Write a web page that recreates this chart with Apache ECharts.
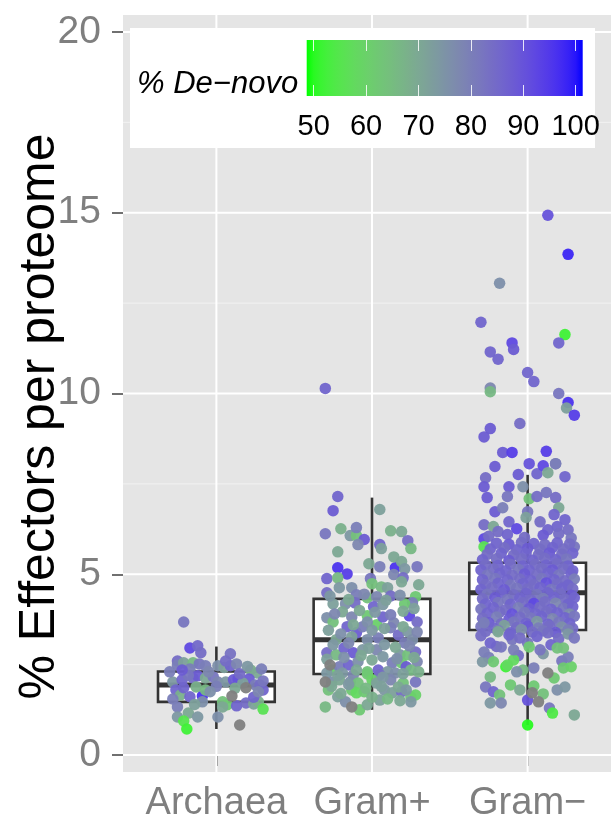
<!DOCTYPE html>
<html><head><meta charset="utf-8">
<script src="https://cdn.jsdelivr.net/npm/echarts@6/dist/echarts.min.js"></script>
<style>html,body{margin:0;padding:0;background:#fff}#c{width:611px;height:824px}</style>
</head><body><div id="c"></div><script>
// ---------------- data ----------------
const categories = ['Archaea', 'Gram+', 'Gram\u2212'];
const yTicks = [0, 5, 10, 15, 20];
const yMinorLines = [2.5, 7.5, 12.5, 17.5];
const legendTicks = [50, 60, 70, 80, 90, 100];
const colorLimits = [48.66, 101.34];
const naColor = '#7F7F7F';
// [lower whisker, Q1, median, Q3, upper whisker]
const boxStats = [
  [0.72, 1.47, 1.94, 2.31, 3.0],
  [1.25, 2.24, 3.19, 4.32, 7.12],
  [0.83, 3.46, 4.49, 5.32, 7.75]
];
// points: [jitter offset, % effectors, % de-novo (null = not available)]
const archaeaPts = [
[-0.21,3.68,82],[-0.17,2.96,92],[-0.12,3.02,85],[-0.10,2.83,84],[0.09,2.8,83],[-0.25,2.6,84],[-0.25,2.49,80],
[-0.21,2.55,72],[-0.15,2.55,66],[-0.11,2.52,82],[-0.07,2.47,80],[0.01,2.47,76],[0.05,2.42,72],[0.09,2.47,86],
[0.13,2.52,78],[0.22,2.35,68],[0.26,2.27,70],[0.29,2.38,80],[-0.17,2.38,80],[-0.28,2.02,74],[-0.22,2.08,86],
[-0.15,2.13,84],[-0.12,2.19,88],[-0.07,2.13,70],[-0.02,2.16,82],[0.01,2.02,78],[0.06,2.02,74],[0.11,2.08,88],
[0.14,2.1,90],[0.21,2.1,88],[0.17,1.99,72],[0.25,1.94,80],[0.19,1.86,null],[0.28,1.94,84],[0.3,1.8,86],
[-0.26,1.8,86],[-0.23,1.66,68],[-0.17,1.61,86],[-0.09,1.63,96],[-0.13,1.88,68],[-0.07,1.8,66],[-0.21,1.86,86],
[0.1,1.63,null],[-0.09,1.47,76],[0.04,1.47,64],[0.07,1.39,62],[0.13,1.36,86],[0.19,1.44,84],[0.24,1.41,72],
[0.27,1.47,68],[0.3,1.27,56],[-0.25,1.33,80],[-0.18,1.16,70],[-0.25,1.05,74],[-0.21,0.94,55],[-0.19,0.72,52],
[-0.12,1.05,74],[0.01,1.05,76],[0.15,0.83,null],[0.04,1.33,70],
[-0.3,2.3,80],[-0.05,2.3,78],[0.15,2.25,84],[0.2,2.45,74],[-0.18,2.2,82],[0.0,1.9,80],[-0.04,1.75,76],
[0.24,1.6,86],[0.3,2.05,82],[-0.28,1.55,80],[0.12,1.85,70],[-0.14,1.4,72],[0.06,2.6,84],[-0.22,2.35,88],[0.27,1.75,78]
];
const gramPosPts = [
[-0.3,10.14,86],[-0.22,7.15,86],[-0.25,6.76,88],[0.05,6.79,72],[-0.3,6.12,82],[-0.2,6.26,68],[-0.14,6.07,74],
[-0.1,6.07,64],[-0.1,6.29,80],[-0.05,5.96,88],[-0.09,5.82,78],[0.12,6.2,68],[0.19,6.18,70],[0.23,5.93,84],
[0.25,5.71,66],[0.05,5.82,86],[0.06,5.71,72],[-0.22,5.62,70],[-0.02,5.29,70],[-0.22,5.18,96],[-0.16,5.01,94],
[0.15,5.18,96],[0.05,5.21,80],[0.14,5.48,70],[0.19,5.35,70],[0.21,5.15,74],[0.29,5.21,82],[-0.29,4.88,86],
[-0.22,4.9,66],[-0.21,4.63,74],[-0.01,4.88,82],[0.0,4.74,64],[0.14,4.99,78],[0.2,4.9,84],[0.19,4.79,70],
[0.3,4.71,70],[0.06,4.65,66],[0.1,4.63,72],[-0.29,4.49,84],[-0.13,4.63,76],[-0.1,4.43,80],[-0.03,4.35,64],
[0.03,4.38,78],[0.12,4.4,84],[0.28,4.38,62],[0.26,4.21,80],[-0.25,4.18,72],[-0.17,4.18,76],[-0.11,4.21,84],
[0.01,4.1,86],[0.07,4.16,74],[0.21,4.18,62],[-0.29,3.8,76],[-0.25,3.68,64],[-0.19,3.96,70],[-0.13,3.82,78],
[-0.03,3.85,62],[0.03,3.6,60],[0.07,3.82,86],[0.14,3.66,78],[0.24,3.85,92],[0.29,3.68,84],[-0.16,3.55,86],
[-0.1,3.38,88],[-0.06,3.55,80],[-0.03,3.68,76],[0.12,3.52,80],[0.17,3.32,84],[0.23,3.41,74],[-0.23,3.19,70],
[-0.13,3.27,72],[-0.03,3.19,76],[0.04,3.24,80],[0.21,3.1,80],[0.26,3.19,76],[-0.29,2.83,84],[-0.23,2.77,66],
[-0.18,2.96,86],[-0.12,2.83,88],[-0.06,2.91,74],[0.0,2.63,70],[0.03,2.91,78],[0.13,2.55,80],[0.18,2.77,74],
[0.23,2.77,64],[0.28,2.85,84],[0.29,2.58,78],[-0.27,2.49,null],[-0.26,2.35,60],[-0.21,2.44,80],[-0.15,2.49,86],
[-0.09,2.58,76],[-0.03,2.3,64],[0.04,2.35,86],[0.1,2.3,74],[0.19,2.55,62],[0.22,2.44,88],[0.25,2.35,66],
[-0.29,2.27,74],[-0.19,2.27,74],[-0.12,2.22,78],[-0.03,2.24,62],[0.05,2.22,84],[0.15,2.27,76],[-0.3,2.02,null],
[-0.26,2.02,76],[-0.21,2.08,70],[-0.14,2.02,76],[-0.09,1.99,64],[0.0,2.08,60],[0.03,1.99,72],[0.12,2.08,78],
[0.2,1.99,64],[0.28,2.02,82],[-0.28,1.8,64],[-0.22,1.61,72],[-0.13,1.8,62],[-0.1,1.72,58],[-0.05,1.75,62],
[0.08,1.8,74],[0.13,1.72,72],[0.19,1.75,84],[0.25,1.61,64],[0.28,1.66,60],[-0.17,1.47,76],[-0.13,1.33,null],
[-0.08,1.25,62],[-0.03,1.39,70],[0.05,1.52,72],[-0.3,1.33,66],[0.25,1.47,74],
[-0.27,4.4,74],[-0.15,4.3,70],[-0.05,4.45,78],[0.09,4.28,72],[0.18,4.42,76],[0.27,4.05,72],
[-0.24,3.9,78],[-0.08,4.0,70],[0.02,3.95,74],[0.12,3.88,80],[0.2,3.98,70],
[-0.28,3.45,72],[-0.2,3.35,76],[-0.12,3.6,70],[0.0,3.45,74],[0.08,3.5,72],[0.2,3.55,70],[0.29,3.4,78],
[-0.25,3.05,74],[-0.15,3.1,78],[-0.02,2.95,72],[0.08,3.05,74],[0.15,2.98,70],[0.24,3.02,78],
[-0.29,2.65,72],[-0.18,2.7,76],[-0.07,2.75,70],[0.07,2.72,74],[0.16,2.66,76],[0.27,2.7,70],
[-0.22,2.2,72],[-0.1,2.35,70],[0.07,2.15,74],[0.2,2.25,72],[0.3,2.3,68],
[-0.26,1.9,70],[-0.15,1.95,74],[-0.04,1.85,66],[0.06,1.9,72],[0.17,1.88,70],[0.22,1.8,74],
[-0.2,1.7,70],[0.0,1.6,68],[0.1,1.55,66],[0.18,1.5,70]
];
const gramNegPts = [
[0.13,14.93,90],[0.26,13.85,98],[-0.18,13.05,76],[-0.3,11.97,86],[0.24,11.63,52],[-0.1,11.4,92],[-0.09,11.22,88],
[-0.24,11.15,86],[-0.19,10.95,86],[0.2,11.4,86],[0.0,10.58,86],[0.04,10.33,86],[-0.24,10.15,78],[-0.24,10.05,66],
[0.2,10.0,82],[0.26,9.75,96],[0.25,9.6,72],[0.3,9.4,94],[-0.24,9.03,88],[-0.28,8.8,88],[-0.05,9.17,84],
[-0.16,8.37,88],[-0.1,8.37,94],[0.12,8.4,94],[0.18,8.06,80],
[-0.21,7.98,88],[-0.06,7.76,88],[0.01,8.06,90],[0.06,7.78,86],[0.1,8.0,92],[0.13,7.81,70],[0.18,8.06,80],
[0.24,7.7,86],[-0.27,7.67,84],[-0.28,7.42,88],[-0.12,7.42,88],[-0.03,7.42,76],[-0.26,7.12,88],[-0.13,7.15,82],
[0.01,7.09,64],[0.06,7.15,84],[0.12,7.26,82],[0.18,7.12,84],[0.2,6.84,70],[-0.21,6.73,88],[-0.16,6.84,80],
[0.0,6.73,82],[0.17,6.65,86],[0.24,6.51,86],[0.26,6.23,84],[-0.28,6.37,84],[-0.22,6.32,70],[-0.19,6.18,84],
[-0.12,6.45,86],[-0.07,6.26,92],[-0.01,6.57,72],[0.08,6.45,84],[0.13,6.23,86],[0.19,6.32,86],[-0.28,5.98,92],
[-0.28,5.76,56],[0.3,5.76,82],
[-0.25,6.05,84],[-0.13,6.1,86],[-0.02,6.02,84],[0.1,6.08,88],[0.2,6.12,84],[0.28,6.0,82],
[-0.2,5.86,86],[-0.12,5.83,88],[-0.04,5.88,84],[0.04,5.85,86],[0.11,5.82,84],[0.19,5.87,86],[0.27,5.84,84],
[-0.24,5.7,86],[-0.15,5.73,84],[-0.07,5.68,86],[0.0,5.72,88],[0.08,5.69,84],[0.16,5.74,86],[0.23,5.7,84],
[-0.26,5.55,84],[-0.17,5.58,86],[-0.09,5.53,84],[-0.01,5.57,86],[0.07,5.54,84],[0.14,5.59,88],[0.22,5.55,84],[0.29,5.58,86],
[-0.29,5.4,86],[-0.2,5.43,84],[-0.12,5.38,88],[-0.04,5.42,84],[0.03,5.39,86],[0.11,5.44,84],[0.18,5.4,86],[0.25,5.42,82],
[-0.27,5.26,84],[-0.19,5.24,86],[-0.11,5.28,84],[-0.03,5.23,86],[0.05,5.27,84],[0.12,5.25,86],[0.19,5.29,84],[0.26,5.23,86],
[-0.3,5.12,86],[-0.22,5.15,84],[-0.14,5.1,86],[-0.06,5.14,82],[0.01,5.11,86],[0.09,5.16,84],[0.16,5.12,88],[0.23,5.15,84],[0.29,5.1,86],
[-0.26,4.98,82],[-0.18,5.02,86],[-0.1,4.97,84],[-0.02,5.01,88],[0.06,4.99,84],[0.13,5.03,86],[0.2,4.98,82],[0.28,5.01,86],
[-0.29,4.85,86],[-0.21,4.88,82],[-0.13,4.84,86],[-0.05,4.87,84],[0.02,4.83,86],[0.09,4.88,82],[0.17,4.85,86],[0.24,4.82,84],[0.3,4.87,80],
[-0.27,4.72,84],[-0.19,4.75,86],[-0.11,4.7,82],[-0.03,4.74,86],[0.04,4.71,84],[0.12,4.76,90],[0.19,4.73,84],[0.26,4.7,86],
[-0.3,4.58,86],[-0.23,4.62,84],[-0.15,4.57,88],[-0.07,4.61,82],[0.0,4.59,84],[0.08,4.63,86],[0.15,4.58,82],[0.22,4.61,86],[0.29,4.6,84],
[-0.26,4.45,82],[-0.17,4.48,86],[-0.09,4.43,84],[-0.01,4.47,86],[0.06,4.44,82],[0.13,4.49,86],[0.21,4.46,84],[0.28,4.42,88],
[-0.29,4.32,84],[-0.21,4.35,88],[-0.13,4.3,82],[-0.05,4.34,86],[0.02,4.29,84],[0.1,4.33,80],[0.17,4.36,86],[0.24,4.31,84],[0.3,4.35,86],
[-0.27,4.18,86],[-0.19,4.22,82],[-0.11,4.17,86],[-0.03,4.21,84],[0.04,4.19,92],[0.11,4.24,84],[0.18,4.2,78],[0.26,4.17,86],
[-0.3,4.04,82],[-0.22,4.08,86],[-0.14,4.02,84],[-0.06,4.07,80],[0.01,4.05,88],[0.08,4.09,84],[0.15,4.03,86],[0.23,4.06,82],[0.29,4.1,86],
[-0.26,3.92,86],[-0.18,3.95,84],[-0.1,3.9,90],[-0.02,3.94,82],[0.05,3.91,86],[0.12,3.96,84],[0.19,3.93,86],[0.27,3.9,76],
[-0.29,3.78,84],[-0.2,3.82,80],[-0.12,3.76,88],[-0.05,3.81,84],[0.02,3.79,82],[0.09,3.83,86],[0.16,3.77,78],[0.24,3.8,86],[0.3,3.84,82],
[-0.25,3.66,88],[-0.17,3.63,84],[-0.09,3.68,82],[-0.01,3.64,86],[0.06,3.69,74],[0.13,3.62,86],[0.2,3.67,82],[0.27,3.64,86],
[-0.3,3.55,82],[-0.22,3.52,86],[-0.15,3.58,72],[-0.07,3.53,84],[0.0,3.56,88],[0.07,3.51,80],[0.14,3.57,84],[0.22,3.54,76],[0.29,3.5,84],
[-0.27,3.42,84],[-0.19,3.45,80],[-0.11,3.38,86],[-0.04,3.47,76],[0.03,3.4,84],[0.1,3.44,82],[0.18,3.39,88],[0.26,3.46,80],
[-0.3,3.3,84],[-0.1,3.2,82],[0.06,3.28,86],[0.2,3.22,84],[0.26,3.35,74],[-0.2,3.0,84],[0.0,3.1,82],[0.15,3.05,86],
[-0.25,2.7,80],[-0.06,2.75,84],[0.1,2.8,74],[0.22,2.6,82],
[-0.14,2.44,52],[-0.09,2.63,58],[-0.22,2.58,62],[-0.29,2.58,74],[-0.24,2.16,66],[-0.27,1.88,82],[-0.22,1.75,86],
[-0.18,1.66,64],[-0.24,1.44,74],[-0.17,1.44,78],[-0.11,1.94,62],[-0.05,1.8,70],[0.0,1.52,90],[0.03,1.72,null],
[0.04,1.91,62],[0.07,1.47,null],[0.1,1.69,64],[0.13,2.27,null],[0.14,1.3,82],[0.16,1.16,54],[0.19,1.8,76],
[0.24,1.88,74],[0.3,1.11,70],[0.0,0.83,50],[0.17,2.13,62],[0.23,2.41,62],[0.28,2.44,60],[0.04,2.41,80],
[-0.03,2.35,66],[-0.09,2.91,80],[-0.17,2.99,82],[-0.28,2.85,80],[-0.24,3.1,86],[0.08,2.91,82],[0.19,2.96,64],
[0.26,2.71,80],[0.3,3.24,82],[0.01,2.99,62],[-0.05,3.24,84],[-0.12,3.32,86],[-0.19,3.41,70],[-0.28,3.66,80],
[0.13,3.38,84],[0.23,2.96,64],[-0.13,2.49,58],[-0.07,2.3,76]
];

// ---------------- colour scale: green -> blue, interpolated in CIE Lab ----------------
function hexToLab(hex) {
  const c = [1, 3, 5].map(i => parseInt(hex.substr(i, 2), 16) / 255)
    .map(v => v <= 0.04045 ? v / 12.92 : Math.pow((v + 0.055) / 1.055, 2.4));
  const X = (0.4124564 * c[0] + 0.3575761 * c[1] + 0.1804375 * c[2]) / 0.95047;
  const Y = (0.2126729 * c[0] + 0.7151522 * c[1] + 0.0721750 * c[2]);
  const Z = (0.0193339 * c[0] + 0.1191920 * c[1] + 0.9503041 * c[2]) / 1.08883;
  const f = t => t > 0.008856 ? Math.cbrt(t) : 7.787 * t + 16 / 116;
  const fx = f(X), fy = f(Y), fz = f(Z);
  return [116 * fy - 16, 500 * (fx - fy), 200 * (fy - fz)];
}
function labToHex(lab) {
  const fy = (lab[0] + 16) / 116, fx = fy + lab[1] / 500, fz = fy - lab[2] / 200;
  const inv = f => { const t = f * f * f; return t > 0.008856 ? t : (f - 16 / 116) / 7.787; };
  const X = inv(fx) * 0.95047, Y = inv(fy), Z = inv(fz) * 1.08883;
  let r = 3.2404542 * X - 1.5371385 * Y - 0.4985314 * Z;
  let g = -0.9692660 * X + 1.8760108 * Y + 0.0415560 * Z;
  let b = 0.0556434 * X - 0.2040259 * Y + 1.0572252 * Z;
  return '#' + [r, g, b].map(v => {
    v = v <= 0.0031308 ? 12.92 * v : 1.055 * Math.pow(v, 1 / 2.4) - 0.055;
    v = Math.max(0, Math.min(1, v));
    return Math.round(v * 255).toString(16).padStart(2, '0');
  }).join('');
}
const labLow = hexToLab('#00FF00'), labHigh = hexToLab('#0000FF');
function paletteAt(t) { return labToHex([0, 1, 2].map(i => labLow[i] + (labHigh[i] - labLow[i]) * t)); }
const NSTOP = 40;
const paletteStops = [];
for (let i = 0; i <= NSTOP; i++) paletteStops.push(paletteAt(i / NSTOP));

// ---------------- build series data ----------------
const groups = [archaeaPts, gramPosPts, gramNegPts];
const pointData = [], naData = [];
groups.forEach((g, gi) => g.forEach(p => {
  if (p[2] === null) naData.push([gi + 1 + p[0], p[1]]);
  else pointData.push([gi + 1 + p[0], p[1], p[2]]);
}));
const boxData = boxStats.map((s, i) => [i + 1].concat(s));
const gridLineData = yTicks.map(v => [0, v]).concat(yMinorLines.map(v => [1, v]))
  .concat(categories.map((c, i) => [2, i + 1]));

const FONT = '"Liberation Sans", Arial, Helvetica, sans-serif';
const chart = echarts.init(document.getElementById('c'), null, { renderer: 'canvas' });

chart.setOption({
  backgroundColor: '#ffffff',
  animation: false,
  grid: [
    { left: 123, top: 15, width: 498, height: 757, show: true, backgroundColor: '#E5E5E5', borderWidth: 0, outerBoundsMode: 'none', containLabel: false },
    { left: 306.7, top: 40, width: 276, height: 56, show: false, outerBoundsMode: 'none', containLabel: false }
  ],
  xAxis: [
    {
      type: 'value', gridIndex: 0, min: 0.4, max: 3.6,
      axisLine: { show: false }, splitLine: { show: false },
      axisTick: { show: true, customValues: [1, 2, 3], length: 11, lineStyle: { color: '#707070', width: 2 } },
      axisLabel: {
        customValues: [1, 2, 3], formatter: v => categories[Math.round(v) - 1],
        color: '#7F7F7F', fontSize: 38, fontFamily: FONT, margin: 13
      }
    },
    {
      type: 'value', gridIndex: 1, min: colorLimits[0], max: colorLimits[1], z: 8,
      axisLine: { show: false }, splitLine: { show: false },
      axisTick: { show: true, inside: true, customValues: legendTicks, length: 11, lineStyle: { color: 'rgba(255,255,255,0.85)', width: 1 } },
      axisLabel: { customValues: legendTicks, color: '#000', fontSize: 29, fontFamily: FONT, margin: 16 }
    },
    {
      type: 'value', gridIndex: 1, position: 'top', min: colorLimits[0], max: colorLimits[1], z: 8,
      axisLine: { show: false }, splitLine: { show: false },
      axisTick: { show: true, inside: true, customValues: legendTicks, length: 11, lineStyle: { color: 'rgba(255,255,255,0.85)', width: 1 } },
      axisLabel: { show: false }
    }
  ],
  yAxis: [
    {
      type: 'value', gridIndex: 0, min: -0.47, max: 20.47,
      axisLine: { show: false }, splitLine: { show: false },
      axisTick: { show: true, customValues: yTicks, length: 11, lineStyle: { color: '#707070', width: 2 } },
      axisLabel: { customValues: yTicks, color: '#7F7F7F', fontSize: 39, fontFamily: FONT, margin: 22 },
      name: '% Effectors per proteome', nameLocation: 'middle', nameRotate: 90, nameGap: 58,
      nameMoveOverlap: false,
      nameTextStyle: { color: '#000', fontSize: 50, fontFamily: FONT, padding: [0, 46, 0, 0] }
    },
    { type: 'value', gridIndex: 1, min: 0, max: 1, show: false }
  ],
  visualMap: {
    type: 'continuous', show: false, min: colorLimits[0], max: colorLimits[1],
    dimension: 2, seriesIndex: 2, inRange: { color: paletteStops }
  },
  graphic: [
    { type: 'rect', z: 5, shape: { x: 130, y: 28, width: 465, height: 120 }, style: { fill: '#ffffff' } },
    { type: 'text', z: 6, x: 137, y: 84, style: { text: '% De\u2212novo', font: 'italic 31px ' + FONT, fill: '#000', verticalAlign: 'middle' } }
  ],
  series: [
    {
      type: 'custom', xAxisIndex: 0, yAxisIndex: 0, z: 1, silent: true,
      data: gridLineData,
      renderItem: (params, api) => {
        const cs = params.coordSys;
        const kind = api.value(0), v = api.value(1);
        if (kind === 2) {
          const x = api.coord([v, 0])[0];
          return { type: 'line', shape: { x1: x, y1: cs.y, x2: x, y2: cs.y + cs.height }, style: { stroke: '#ffffff', lineWidth: 2 } };
        }
        const y = api.coord([1, v])[1];
        return { type: 'line', shape: { x1: cs.x, y1: y, x2: cs.x + cs.width, y2: y },
          style: { stroke: kind === 0 ? '#ffffff' : '#F2F2F2', lineWidth: kind === 0 ? 2 : 1 } };
      }
    },
    {
      type: 'custom', xAxisIndex: 0, yAxisIndex: 0, z: 2, silent: true,
      data: boxData,
      renderItem: (params, api) => {
        const c = api.value(0), lo = api.value(1), q1 = api.value(2), med = api.value(3), q3 = api.value(4), hi = api.value(5);
        const hw = 0.375;
        const lt = api.coord([c - hw, q3]), rb = api.coord([c + hw, q1]);
        const ml = api.coord([c - hw, med]), mr = api.coord([c + hw, med]);
        const pHi = api.coord([c, hi]), pQ3 = api.coord([c, q3]), pQ1 = api.coord([c, q1]), pLo = api.coord([c, lo]);
        const st = { stroke: '#333333', lineWidth: 2.6 };
        return { type: 'group', children: [
          { type: 'line', shape: { x1: pHi[0], y1: pHi[1], x2: pQ3[0], y2: pQ3[1] }, style: st },
          { type: 'line', shape: { x1: pQ1[0], y1: pQ1[1], x2: pLo[0], y2: pLo[1] }, style: st },
          { type: 'rect', shape: { x: lt[0], y: lt[1], width: rb[0] - lt[0], height: rb[1] - lt[1] }, style: { fill: '#ffffff', stroke: '#333333', lineWidth: 2.6 } },
          { type: 'line', shape: { x1: ml[0], y1: ml[1], x2: mr[0], y2: mr[1] }, style: { stroke: '#333333', lineWidth: 5 } }
        ] };
      }
    },
    {
      type: 'scatter', xAxisIndex: 0, yAxisIndex: 0, z: 3, silent: true,
      symbol: 'circle', symbolSize: 11.5,
      itemStyle: { opacity: 0.95 },
      data: pointData
    },
    {
      type: 'custom', xAxisIndex: 1, yAxisIndex: 1, z: 6, silent: true,
      data: [[colorLimits[0], colorLimits[1]]],
      renderItem: (params, api) => {
        const p0 = api.coord([api.value(0), 1]), p1 = api.coord([api.value(1), 0]);
        const stops = paletteStops.map((c, i) => ({ offset: i / NSTOP, color: c }));
        return { type: 'rect', shape: { x: p0[0], y: p0[1], width: p1[0] - p0[0], height: p1[1] - p0[1] },
          style: { fill: new echarts.graphic.LinearGradient(0, 0, 1, 0, stops) } };
      }
    },
    {
      type: 'scatter', xAxisIndex: 0, yAxisIndex: 0, z: 3, silent: true,
      symbol: 'circle', symbolSize: 11.5,
      itemStyle: { color: naColor, opacity: 0.95 },
      data: naData
    }
  ]
});
</script></body></html>
